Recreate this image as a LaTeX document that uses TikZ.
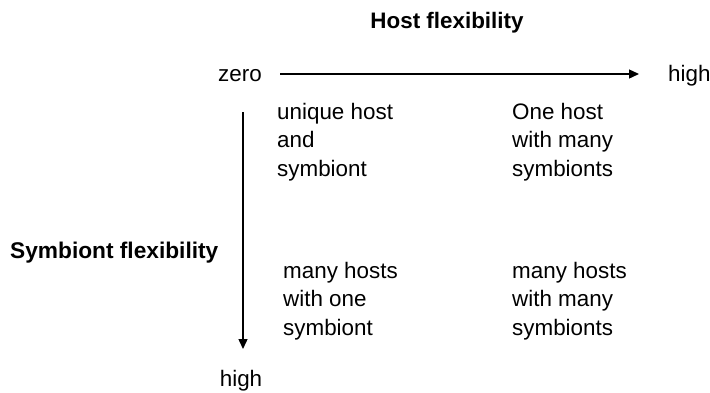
\documentclass[tikz,border=0pt]{standalone}
\usepackage{fontspec}
\setmainfont{Liberation Sans}
\usetikzlibrary{arrows.meta}
\begin{document}
\begin{tikzpicture}[x=1pt,y=-1pt,
  lbl/.style={inner sep=0pt,font=\fontsize{22.4}{28.5}\selectfont},
  blk/.style={lbl,align=left,anchor=north west},
  axis/.style={line width=1.4pt,-{Triangle[length=10pt,width=9pt]}}]
\useasboundingbox (0,0) rectangle (710,392);
\node[lbl,font=\fontsize{22.4}{28.5}\selectfont\bfseries,anchor=base] (title) at (447,28) {Host flexibility};
\node[lbl,anchor=base east] (zero) at (262,81) {zero};
\node[lbl,anchor=base west] (highx) at (668,81) {high};
\node[lbl,font=\fontsize{22.7}{28.5}\selectfont\bfseries,anchor=base west] (symb) at (10,258) {Symbiont flexibility};
\node[lbl,anchor=base] (highy) at (241,386) {high};
\coordinate (hs) at (280,74);
\coordinate (he) at (639,74);
\coordinate (vs) at (243,112);
\coordinate (ve) at (243,349);
\draw[axis] (hs) -- (he);
\draw[axis] (vs) -- (ve);
\node[blk] (q1) at (277,103) {unique host\\and\\symbiont};
\node[blk] (q2) at (512,103) {One host\\with many\\symbionts};
\node[blk] (q3) at (283,262) {many hosts\\with one\\symbiont};
\node[blk] (q4) at (512,262) {many hosts\\with many\\symbionts};
\end{tikzpicture}
\end{document}
